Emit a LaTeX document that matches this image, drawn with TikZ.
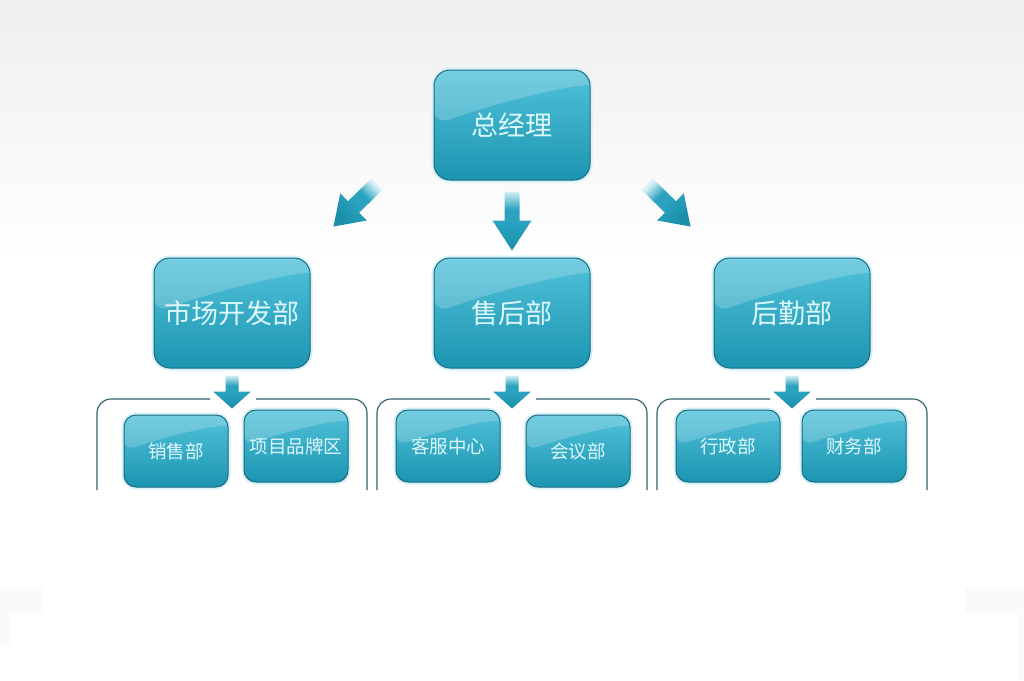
\documentclass[tikz,border=0pt]{standalone}
\usepackage{fontspec}
\newfontfamily\cjk{Noto Sans CJK SC}
\usetikzlibrary{calc}
\definecolor{boxtop}{HTML}{52C2DA}
\definecolor{boxbot}{HTML}{1C95B1}
\definecolor{boxline}{HTML}{1D6A7E}
\definecolor{boxglow}{HTML}{D6F2F8}
\definecolor{labeltext}{HTML}{DDF8FD}
\definecolor{arrowtip}{HTML}{1A8DAA}
\definecolor{arrowmid}{HTML}{2BA3C0}
\definecolor{arrowtail}{HTML}{D2F0F6}
\definecolor{framecol}{HTML}{2F5E6B}
\pgfdeclareverticalshading{flowfade}{100bp}{color(0bp)=(arrowtip); color(25bp)=(arrowtip);
  color(50bp)=(arrowmid); color(60bp)=(arrowmid); color(75bp)=(arrowtail); color(100bp)=(arrowtail)}
\newcommand\flowarrow[6]{%
  \coordinate (neck) at ($(#3)!#6!(#2)$);
  \shade[flow, shading angle=#1] ($(#2)!#4!90:(#3)$) -- ($(neck)!#4!90:(#3)$)
    -- ($(neck)!#5!90:(#3)$) -- (#3) -- ($(neck)!#5!-90:(#3)$)
    -- ($(neck)!#4!-90:(#3)$) -- ($(#2)!#4!-90:(#3)$) -- cycle;}

\begin{document}
\begin{tikzpicture}[x=1pt, y=-1pt,
      box/.style = {rounded corners=16pt, draw=boxline, line width=1pt,
        top color=boxtop, bottom color=boxbot, text=labeltext,
        font=\cjk\fontsize{27}{30}\selectfont, inner sep=0pt,
        minimum width=156pt, minimum height=110pt,
        preaction={draw=boxglow, line width=5pt},
        path picture={\fill[white, opacity=.2]
          (path picture bounding box.north west)
          -- ($(path picture bounding box.north west)!.5!(path picture bounding box.south west)$)
          .. controls ($(path picture bounding box.north)!.25!(path picture bounding box.south)$)
          and ($(path picture bounding box.north east)!.1!(path picture bounding box.south east)$)
          .. (path picture bounding box.north east) -- cycle;}},
      subbox/.style = {box, rounded corners=12pt,
        minimum width=104pt, minimum height=72pt,
        font=\cjk\fontsize{18.5}{22}\selectfont},
      flow/.style = {shading=flowfade},
      frame/.style = {draw=framecol, line width=1.1pt, rounded corners=14pt}]
  \fill[white] (0,0) rectangle (1024,680);
  \fill[top color=gray!13, bottom color=white] (0,0) rectangle (1024,260);
  \fill[gray!4] (0,588) rectangle (42,612) (0,612) rectangle (10,645);
  \fill[gray!4] (965,588) rectangle (1024,612) (1018,612) rectangle (1024,680);
  \useasboundingbox (0,0) rectangle (1024,680);

  \node[box] (ceo) at (512,125) {总经理};
  \node[box] (mkt) at (232,313) {市场开发部};
  \node[box] (after) at (512,313) {售后部};
  \node[box] (logi) at (792,313) {后勤部};

  \node[subbox] (sales) at (176,451) {销售部};
  \node[subbox] (brand) at (296,446) {项目品牌区};
  \node[subbox] (service) at (448,446) {客服中心};
  \node[subbox] (meet) at (578,451) {会议部};
  \node[subbox] (admin) at (728,446) {行政部};
  \node[subbox] (fin) at (854,446) {财务部};

  \foreach \cx in {232,512,792} {
    \draw[frame] (\cx-135,490) |- (\cx-22,399);
    \draw[frame] (\cx+24,399) -| (\cx+135,490);
  }

  \coordinate (ceoL) at ($(ceo.south west)+(-57,4)$);
  \coordinate (mktT) at ($(mkt.north east)+(23,-31)$);
  \coordinate (ceoC) at ($(ceo.south)+(0,11)$);
  \coordinate (afterT) at ($(after.north)+(0,-7)$);
  \coordinate (ceoR) at ($(ceo.south east)+(57,4)$);
  \coordinate (logiT) at ($(logi.north west)+(-23,-31)$);
  \flowarrow{-45}{ceoL}{mktT}{8pt}{19pt}{28pt}
  \flowarrow{0}{ceoC}{afterT}{7.5pt}{19.5pt}{30pt}
  \flowarrow{45}{ceoR}{logiT}{8pt}{19pt}{28pt}

  \foreach \up in {mkt,after,logi} {
    \coordinate (\up Tail) at ($(\up.south)+(0,7)$);
    \coordinate (\up Tip) at ($(\up.south)+(0,40)$);
    \flowarrow{0}{\up Tail}{\up Tip}{6.5pt}{19pt}{17pt}
  }
\end{tikzpicture}
\end{document}
